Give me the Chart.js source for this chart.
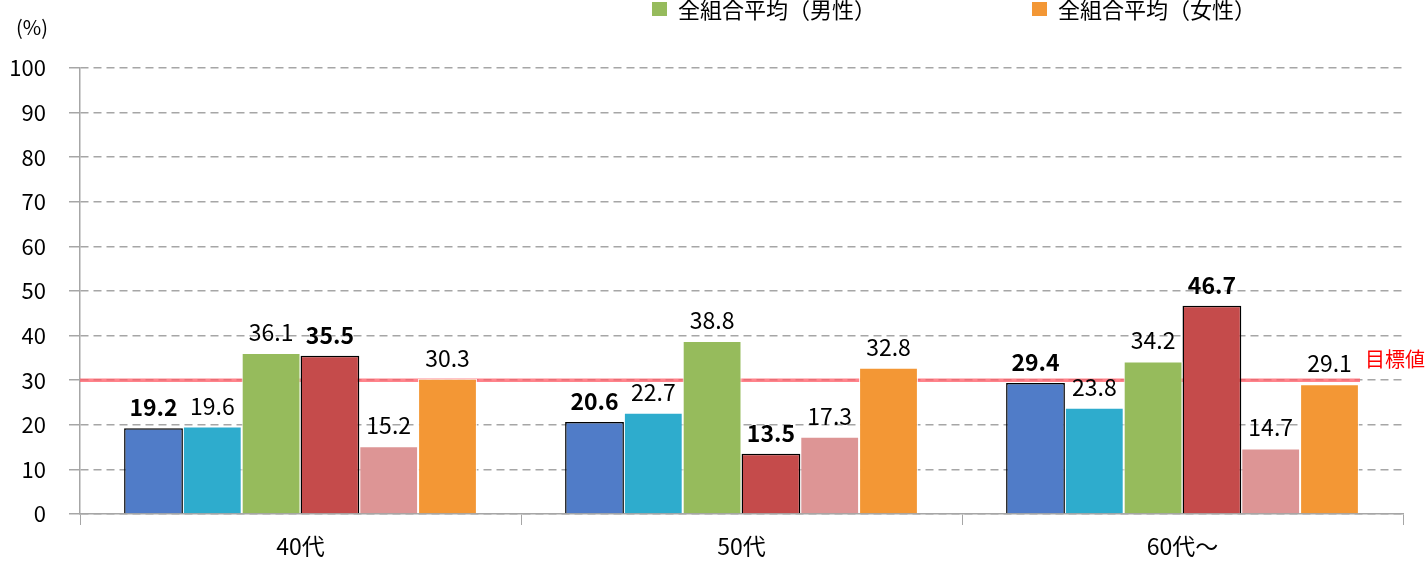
<!DOCTYPE html>
<html>
<head>
<meta charset="utf-8">
<script src="https://cdn.jsdelivr.net/npm/chart.js@4"></script>
<style>
  body { margin: 0; background: #fff; }
  #wrap { width: 1427px; height: 561px; }
</style>
</head>
<body>
<div id="wrap"><canvas id="myChart" width="1427" height="561"></canvas></div>
<script>
var categories = ["40代", "50代", "60代～"];
var seriesNames = ["当組合（男性）", "同業種平均（男性）", "全組合平均（男性）", "当組合（女性）", "同業種平均（女性）", "全組合平均（女性）"];
var menOwn = [19.2, 20.6, 29.4];
var menIndustry = [19.6, 22.7, 23.8];
var menAll = [36.1, 38.8, 34.2];
var womenOwn = [35.5, 13.5, 46.7];
var womenIndustry = [15.2, 17.3, 14.7];
var womenAll = [30.3, 32.8, 29.1];
var yTicks = [0, 10, 20, 30, 40, 50, 60, 70, 80, 90, 100];
var target = 30;

var barColors = ["#507CC8", "#2EACCD", "#96BB5C", "#C54B4B", "#DD9595", "#F39735"];
var boldSeries = [0, 3];
var legendShown = [2, 5];
var FONT = "'Noto Sans CJK JP', 'Noto Sans', sans-serif";

var allData = [menOwn, menIndustry, menAll, womenOwn, womenIndustry, womenAll];
var datasets = allData.map(function (d, i) {
  var bold = boldSeries.indexOf(i) >= 0;
  return {
    label: seriesNames[i],
    data: d,
    backgroundColor: barColors[i],
    borderColor: bold ? "#000" : "#fff",
    borderWidth: bold ? 1.5 : 1,
    categoryPercentage: 0.8,
    barPercentage: 1.0
  };
});

// target line behind the bars, labels on top
var extras = {
  id: "extras",
  beforeDatasetsDraw: function (chart) {
    var c = chart.ctx, y = chart.scales.y.getPixelForValue(target);
    c.save();
    c.strokeStyle = "rgba(255,90,100,0.75)";
    c.lineWidth = 3.5;
    c.beginPath();
    c.moveTo(chart.chartArea.left, y);
    c.lineTo(1360, y);
    c.stroke();
    c.restore();
  },
  afterDatasetsDraw: function (chart) {
    var c = chart.ctx;
    c.save();
    c.textAlign = "center";
    c.textBaseline = "alphabetic";
    c.fillStyle = "#000";
    chart.data.datasets.forEach(function (ds, i) {
      var bold = boldSeries.indexOf(i) >= 0;
      c.font = (bold ? "bold " : "") + "23px " + FONT;
      chart.getDatasetMeta(i).data.forEach(function (bar, j) {
        c.fillText(ds.data[j].toFixed(1), bar.x, bar.y - 12);
      });
    });
    // target label
    var y = chart.scales.y.getPixelForValue(target);
    c.fillStyle = "#FF0000";
    c.textAlign = "left";
    c.textBaseline = "middle";
    c.font = "20px " + FONT;
    c.fillText("目標値", 1365, y - 21);
    // unit
    c.fillStyle = "#000";
    c.textAlign = "center";
    c.font = "20px " + FONT;
    c.fillText("(%)", 32, 27);
    // legend (only the visible entries)
    var lx = [652, 1032];
    c.textAlign = "left";
    c.font = "22px " + FONT;
    legendShown.forEach(function (idx, k) {
      c.fillStyle = barColors[idx];
      c.fillRect(lx[k], 2, 15, 14);
      c.fillStyle = "#000";
      c.fillText(seriesNames[idx], lx[k] + 26, 10);
    });
    c.restore();
  }
};

var ctx_live = document.getElementById("myChart");
var myChart = new Chart(ctx_live, {
  type: "bar",
  data: { labels: categories, datasets: datasets },
  options: {
    responsive: false,
    animation: false,
    layout: { padding: { top: 68, right: 24, left: 0, bottom: 0 } },
    plugins: { legend: { display: false }, tooltip: { enabled: false } },
    scales: {
      x: {
        afterFit: function (s) { s.height = 47; },
        grid: { offset: true, drawOnChartArea: false, drawTicks: true, tickLength: 11, color: "#a6a6a6", tickColor: "#a6a6a6" },
        border: { display: true, color: "#a6a6a6", width: 1.5 },
        ticks: { color: "#000", font: { family: FONT, size: 23 }, padding: 7 }
      },
      y: {
        min: 0,
        max: 100,
        afterFit: function (s) { s.width = 80; },
        afterBuildTicks: function (s) { s.ticks = yTicks.map(function (v) { return { value: v }; }); },
        grid: { color: "#a6a6a6", lineWidth: 1.5, tickLength: 11, tickColor: "#a6a6a6", tickBorderDash: [] },
        border: { display: true, color: "#a6a6a6", width: 1.5, dash: [8, 5] },
        ticks: { color: "#000", font: { family: FONT, size: 22 }, padding: 23 }
      }
    }
  },
  plugins: [extras]
});
</script>
</body>
</html>
